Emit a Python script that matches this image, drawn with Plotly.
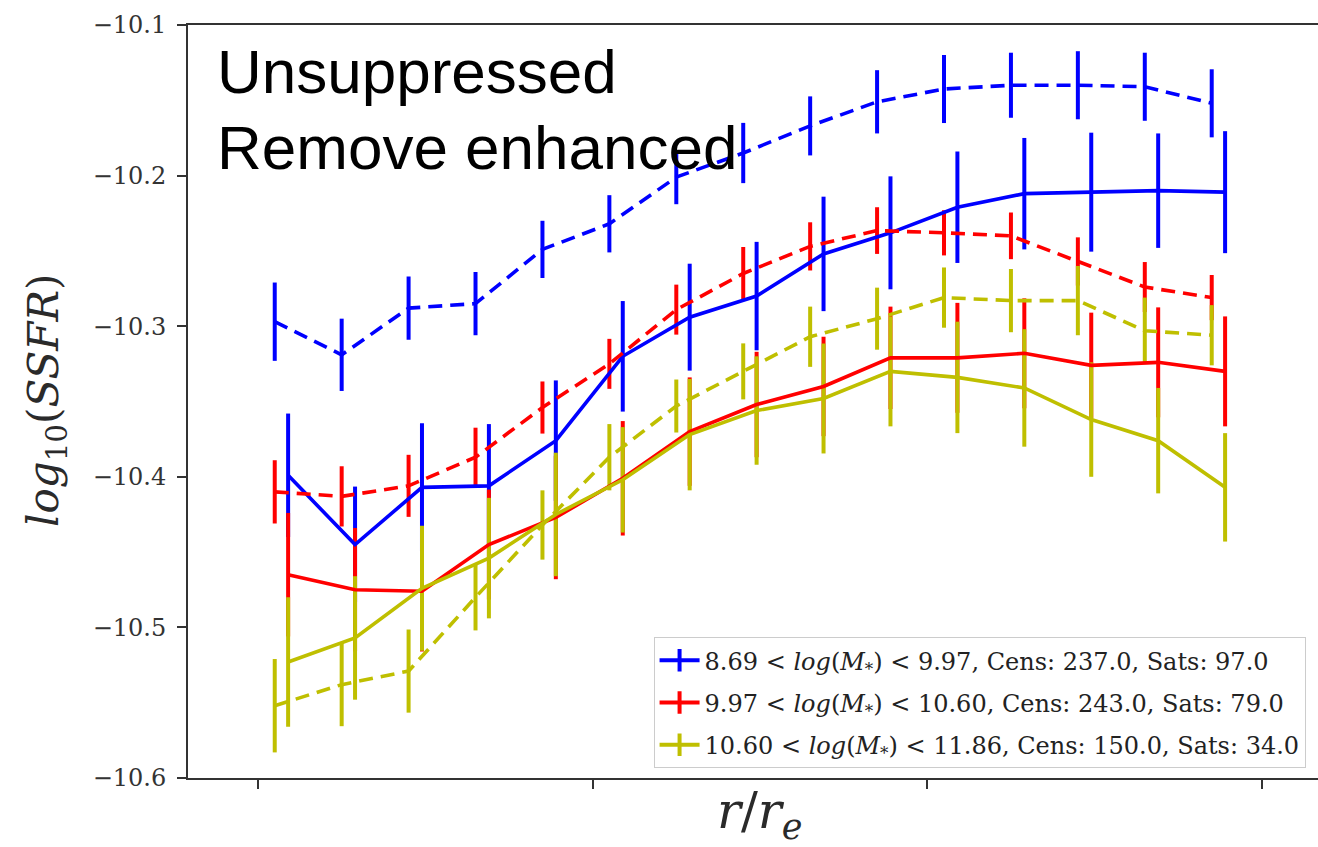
import plotly.graph_objects as go

# radial bins (r / r_e)
r_solid = [0.045, 0.145, 0.245, 0.345, 0.445, 0.545, 0.645, 0.745, 0.845, 0.945, 1.045, 1.145, 1.245, 1.345, 1.445]
r_dashed = [0.025, 0.125, 0.225, 0.325, 0.425, 0.525, 0.625, 0.725, 0.825, 0.925, 1.025, 1.125, 1.225, 1.325, 1.425]

# solid lines (Unsuppressed)
blue_solid = [-10.399, -10.445, -10.407, -10.406, -10.376, -10.320, -10.294, -10.280, -10.252, -10.238, -10.221, -10.212, -10.211, -10.210, -10.211]
blue_solid_err = [0.041, 0.0385, 0.0425, 0.041, 0.040, 0.0367, 0.0355, 0.036, 0.038, 0.0375, 0.037, 0.037, 0.0395, 0.038, 0.0405]
red_solid = [-10.465, -10.475, -10.476, -10.445, -10.427, -10.401, -10.370, -10.352, -10.340, -10.321, -10.321, -10.318, -10.326, -10.324, -10.330]
red_solid_err = [0.041, 0.041, 0.040, 0.0365, 0.041, 0.038, 0.036, 0.035, 0.033, 0.034, 0.0365, 0.0365, 0.035, 0.0365, 0.0365]
yel_solid = [-10.523, -10.507, -10.474, -10.454, -10.425, -10.402, -10.372, -10.356, -10.348, -10.330, -10.334, -10.341, -10.362, -10.376, -10.407]
yel_solid_err = [0.043, 0.041, 0.0415, 0.040, 0.041, 0.035, 0.037, 0.036, 0.0365, 0.0365, 0.037, 0.039, 0.038, 0.035, 0.036]

# dashed lines (Remove enhanced)
blue_dashed = [-10.297, -10.319, -10.288, -10.285, -10.249, -10.232, -10.201, -10.185, -10.167, -10.151, -10.1425, -10.140, -10.140, -10.141, -10.152]
blue_dashed_err = [0.026, 0.024, 0.021, 0.021, 0.019, 0.019, 0.018, 0.020, 0.0196, 0.021, 0.0226, 0.0216, 0.0226, 0.0226, 0.0226]
red_dashed = [-10.410, -10.413, -10.406, -10.387, -10.354, -10.325, -10.289, -10.265, -10.247, -10.2365, -10.238, -10.240, -10.257, -10.274, -10.281]
red_dashed_err = [0.021, 0.020, 0.0206, 0.0196, 0.0173, 0.0166, 0.0166, 0.0176, 0.016, 0.0155, 0.015, 0.0155, 0.016, 0.0166, 0.015]
yel_dashed = [-10.552, -10.538, -10.529, -10.480, -10.432, -10.387, -10.353, -10.330, -10.307, -10.295, -10.281, -10.283, -10.283, -10.303, -10.306]
yel_dashed_err = [0.031, 0.0276, 0.0276, 0.022, 0.023, 0.022, 0.0176, 0.0186, 0.020, 0.0206, 0.020, 0.021, 0.023, 0.022, 0.020]

legend_labels = [
    "8.69 < <i>log</i>(<i>M</i><sub>*</sub>) < 9.97, Cens: 237.0, Sats: 97.0",
    "9.97 < <i>log</i>(<i>M</i><sub>*</sub>) < 10.60, Cens: 243.0, Sats: 79.0",
    "10.60 < <i>log</i>(<i>M</i><sub>*</sub>) < 11.86, Cens: 150.0, Sats: 34.0",
]
y_ticks = [-10.6, -10.5, -10.4, -10.3, -10.2, -10.1]
y_tick_text = ["\u221210.6", "\u221210.5", "\u221210.4", "\u221210.3", "\u221210.2", "\u221210.1"]
x_ticks = [0.0, 0.5, 1.0, 1.5]

BLUE, RED, YEL = "#0000ff", "#ff0000", "#bfbf00"
DASH = "14px,8px"

series = [
    (r_solid, blue_solid, blue_solid_err, BLUE, "solid"),
    (r_solid, red_solid, red_solid_err, RED, "solid"),
    (r_solid, yel_solid, yel_solid_err, YEL, "solid"),
    (r_dashed, blue_dashed, blue_dashed_err, BLUE, DASH),
    (r_dashed, red_dashed, red_dashed_err, RED, DASH),
    (r_dashed, yel_dashed, yel_dashed_err, YEL, DASH),
]

fig = go.Figure()

# error bars first (all), then lines on top, like matplotlib zorder
for xs, ys, es, col, dash in series:
    fig.add_trace(go.Scatter(
        x=xs, y=ys, mode="markers", marker=dict(size=1, color="rgba(0,0,0,0)"),
        error_y=dict(type="data", array=es, visible=True, color=col, thickness=4, width=0),
        showlegend=False, hoverinfo="skip"))
for xs, ys, es, col, dash in series:
    fig.add_trace(go.Scatter(
        x=xs, y=ys, mode="lines", line=dict(color=col, width=3.6, dash=dash),
        showlegend=False))

# legend entries
for i, (lab, col) in enumerate(zip(legend_labels, [BLUE, RED, YEL])):
    fig.add_trace(go.Scatter(
        x=[None], y=[None], mode="lines+markers", name=lab, legendgroup=f"g{i}",
        line=dict(color=col, width=4),
        marker=dict(symbol="line-ns", size=16, line=dict(color=col, width=4))))

axis_col = "#333333"
fig.update_layout(
    width=1318, height=847,
    margin=dict(l=188, r=0, t=25, b=69),
    paper_bgcolor="white", plot_bgcolor="white",
    showlegend=True,
    legend=dict(
        x=0.989, y=0.013, xanchor="right", yanchor="bottom",
        bgcolor="rgba(255,255,255,0.85)", bordercolor="#cccccc", borderwidth=1,
        font=dict(family="DejaVu Serif", size=24, color="#222222"),
        tracegroupgap=8, itemwidth=40,
    ),
    xaxis=dict(
        range=[-0.1046, 1.5838], tickvals=x_ticks, ticktext=["", "", "", ""],
        ticks="outside", ticklen=9, tickwidth=1.5, tickcolor=axis_col,
        showline=True, linecolor=axis_col, linewidth=2, mirror=True,
        showgrid=False, zeroline=False,
    ),
    yaxis=dict(
        range=[-10.6, -10.1], tickvals=y_ticks, ticktext=y_tick_text,
        ticks="outside", ticklen=9, tickwidth=1.5, tickcolor=axis_col,
        ticklabelstandoff=6,
        tickfont=dict(family="DejaVu Serif", size=24, color="#333333"),
        showline=True, linecolor=axis_col, linewidth=2, mirror=False,
        showgrid=False, zeroline=False,
    ),
    annotations=[
        dict(text="Unsuppressed", xref="paper", yref="paper", x=0.024, y=0.938,
             xanchor="left", yanchor="middle", showarrow=False,
             font=dict(family="Liberation Sans, Arial", size=62, color="black")),
        dict(text="Remove enhanced", xref="paper", yref="paper", x=0.024, y=0.837,
             xanchor="left", yanchor="middle", showarrow=False,
             font=dict(family="Liberation Sans, Arial", size=62, color="black")),
        dict(text="<i>log</i><sub>10</sub>(<i>SSFR</i>)", xref="paper", yref="paper",
             x=-0.1248, y=0.502, xanchor="center", yanchor="middle", textangle=-90,
             showarrow=False, font=dict(family="DejaVu Serif", size=42, color="#2a2a2a")),
        dict(text="<i>r</i>/<i>r</i><sub><i>e</i></sub>", xref="paper", yref="paper",
             x=0.506, y=-0.049, xanchor="center", yanchor="middle",
             showarrow=False, font=dict(family="DejaVu Serif", size=50, color="#2a2a2a")),
    ],
)

fig.write_html("out.html")
